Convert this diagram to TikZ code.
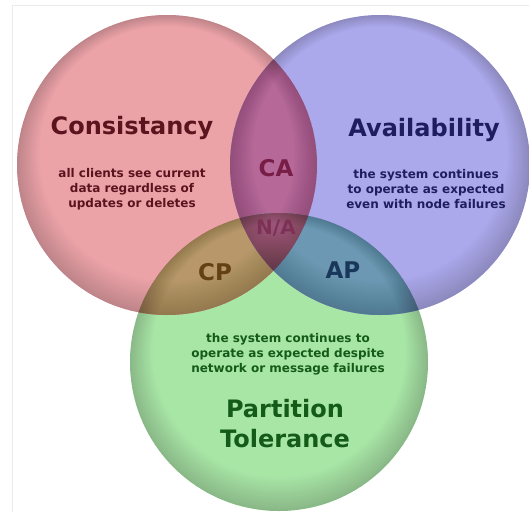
\documentclass[tikz,border=0pt]{standalone}
\usepackage{fontspec}
\setmainfont{DejaVu Sans}
\usetikzlibrary{calc}
\definecolor{redc}{RGB}{236,163,168}
\definecolor{bluec}{RGB}{172,168,236}
\definecolor{greenc}{RGB}{168,230,166}
\definecolor{CAc}{RGB}{182,104,152}
\definecolor{CPc}{RGB}{184,152,106}
\definecolor{APc}{RGB}{108,152,180}
\definecolor{NAc}{RGB}{160,88,125}
\definecolor{conT}{RGB}{90,20,30}
\definecolor{avT}{RGB}{30,30,95}
\definecolor{ptT}{RGB}{20,90,25}
\definecolor{caT}{RGB}{120,30,70}
\definecolor{naT}{RGB}{125,50,85}
\definecolor{cpT}{RGB}{100,65,20}
\definecolor{apT}{RGB}{25,55,90}
\begin{document}
\begin{tikzpicture}[x=1pt,y=-1pt,
  title/.style={font=\bfseries\fontsize{24}{30}\selectfont, align=center, inner sep=0pt},
  desc/.style={font=\bfseries\fontsize{12}{14.8}\selectfont, align=center, inner sep=0pt},
  zone/.style={font=\bfseries\fontsize{23}{26}\selectfont, inner sep=0pt}
]
\useasboundingbox (0,0) rectangle (529,512);
\fill[white] (0,0) rectangle (529,512);
\draw[black!8, line width=1pt] (12,512) -- (12,5) -- (529,5);

\coordinate (R) at (167,165);
\coordinate (B) at (380,165);
\coordinate (G) at (279,362);

% base discs
\fill[greenc] (G) circle[radius=149];
\fill[redc] (R) circle[radius=150];
\fill[bluec] (B) circle[radius=150];
% overlaps
\begin{scope}
  \clip (R) circle[radius=150];
  \fill[CAc] (B) circle[radius=150];
  \fill[CPc] (G) circle[radius=149];
\end{scope}
\begin{scope}
  \clip (B) circle[radius=150];
  \fill[APc] (G) circle[radius=149];
\end{scope}
\begin{scope}
  \clip (R) circle[radius=150];
  \clip (B) circle[radius=150];
  \fill[NAc] (G) circle[radius=149];
\end{scope}
% soft rims, heavier at the bottom of each disc
\foreach \c/\r in {R/150,B/150,G/149}{
  \foreach \k in {1.5,3,...,22.5}{
    \fill[black, opacity=0.011, even odd rule]
      (\c) circle[radius=\r]
      ($(\c)+(0,-\k/2)$) circle[radius=\r-\k];
  }
}

% texts
\node[title, text=conT] (cons) at (132,128) {Consistancy};
\node[desc, text=conT] (consd) at (132,189) {all clients see current\\data regardless of\\updates or deletes};
\node[title, text=avT] (avail) at (424,130) {Availability};
\node[desc, text=avT] (availd) at (426,189) {the system continues\\to operate as expected\\even with node failures};
\node[zone, text=caT] (ca) at (276,168) {CA};
\node[zone, text=naT, font=\bfseries\fontsize{20}{24}\selectfont] (na) at (276,228) {N/A};
\node[zone, text=cpT] (cp) at (215,272) {CP};
\node[zone, text=apT] (ap) at (343,270) {AP};
\node[desc, text=ptT] (partd) at (288,354) {the system continues to\\operate as expected despite\\network or message failures};
\node[title, text=ptT] (part) at (285,424) {Partition\\Tolerance};
\end{tikzpicture}
\end{document}
